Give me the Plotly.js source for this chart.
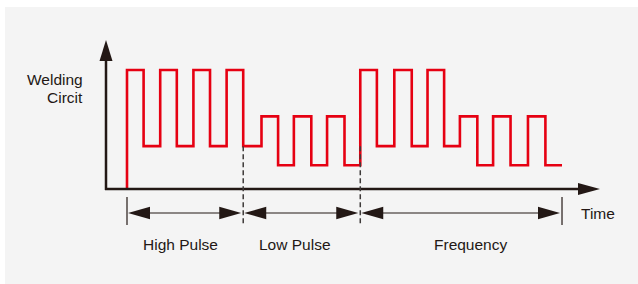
<!DOCTYPE html>
<html>
<head>
<meta charset="utf-8">
<script src="https://cdn.plot.ly/plotly-3.0.1.min.js"></script>
<style>html,body{margin:0;padding:0;background:#fff;}#chart{width:638px;height:284px;}</style>
</head>
<body>
<div id="chart"></div>
<script>
// ---- data (time units, current level units) ----
const edgeTimes = [0, 0, 1, 2, 3, 4, 5, 6, 7, 8.1, 9.1, 10.05, 11.1, 12.05, 13.1, 14.05, 15.05, 16.1, 17.15, 18.1, 19.1, 20.05, 21.1, 22.05, 23.1, 24.15, 25.2, 26.2];
const levels    = [0, 10, 3.6, 10, 3.6, 10, 3.6, 10, 3.6, 6.1, 2.0, 6.1, 2.0, 6.1, 2.0, 10, 3.6, 10, 3.6, 10, 3.6, 6.1, 2.0, 6.1, 2.0, 6.1, 2.0, 2.0];
const segmentBounds = [0, 7, 14.05, 26.2];
const segmentLabels = ["High Pulse", "Low Pulse", "Frequency"];
const labelTimes = [3.22, 10.09, 20.69];
const dashedFrom = 3.6;
const yAxisLabel = ["Welding", "Circit"];
const xAxisLabel = "Time";

// ---- scales ----
const xRange = [-7.649, 30.777];
const yRange = [-7.983, 15.882];
const W = 638, H = 284;
const pxX = W / (xRange[1] - xRange[0]);   // px per time unit
const pxY = H / (yRange[1] - yRange[0]);   // px per level unit
const dx = p => p / pxX, dy = p => p / pxY;

const ink = '#231815';
const red = '#e60012';

const axisT = -dx(21);        // y axis location
const xTip = 26.2 + dx(38);   // x arrow tip
const yTip = 10 + dy(30);     // y arrow tip
const dimY = -dy(24);         // dimension line
const tickTop = -dy(8), tickBot = -dy(36);

const shapes = [];
shapes.push({type:'rect', xref:'paper', yref:'paper', x0:5/W, x1:1, y0:0, y1:1-7/H, fillcolor:'#f4f4f4', line:{width:0}, layer:'below'});
// axes
shapes.push({type:'line', x0:axisT, x1:axisT, y0:-dy(1), y1:yTip-dy(20), line:{color:ink, width:2.5}});
shapes.push({type:'line', x0:axisT-dx(1), x1:xTip-dx(20), y0:0, y1:0, line:{color:ink, width:2.5}});
function tri(tipX, tipY, baseX1, baseY1, baseX2, baseY2){
  return {type:'path', path:`M ${tipX} ${tipY} L ${baseX1} ${baseY1} L ${baseX2} ${baseY2} Z`, fillcolor:ink, line:{width:0}};
}
shapes.push(tri(axisT, yTip, axisT-dx(6.5), yTip-dy(21), axisT+dx(6.5), yTip-dy(21)));
shapes.push(tri(xTip, 0, xTip-dx(22), dy(6), xTip-dx(22), -dy(6)));
// dimension ticks
[segmentBounds[0], segmentBounds[3]].forEach(t => {
  shapes.push({type:'line', x0:t, x1:t, y0:tickTop, y1:tickBot, line:{color:ink, width:1.2}});
});
[segmentBounds[1], segmentBounds[2]].forEach(t => {
  shapes.push({type:'line', x0:t, x1:t, y0:dashedFrom, y1:tickBot, line:{color:'#3e3a39', width:1.5, dash:'5px,3px'}});
});
// double arrows
for (let i = 0; i < 3; i++) {
  const a = segmentBounds[i] + dx(1), b = segmentBounds[i+1] - dx(2);
  shapes.push({type:'line', x0:a+dx(20), x1:b-dx(20), y0:dimY, y1:dimY, line:{color:ink, width:1.2}});
  shapes.push(tri(a, dimY, a+dx(22), dimY+dy(6.3), a+dx(22), dimY-dy(6.3)));
  shapes.push(tri(b, dimY, b-dx(22), dimY+dy(6.3), b-dx(22), dimY-dy(6.3)));
}

const font = {family:'"Liberation Sans", Arial, sans-serif', size:15.5, color:ink};
const annotations = [];
segmentLabels.forEach((s, i) => annotations.push({x:labelTimes[i], y:-dy(55), text:s, showarrow:false, xanchor:'center', yanchor:'middle', font}));
annotations.push({x:26.2+dx(17), y:-dy(24.5), text:xAxisLabel, showarrow:false, xanchor:'left', yanchor:'middle', font});
annotations.push({x:axisT-dx(21.5), y:10-dy(9), text:yAxisLabel[0], showarrow:false, xanchor:'right', yanchor:'middle', font});
annotations.push({x:axisT-dx(21.5), y:10-dy(27), text:yAxisLabel[1], showarrow:false, xanchor:'right', yanchor:'middle', font});

const trace = {x:edgeTimes, y:levels, type:'scatter', mode:'lines', line:{shape:'hv', color:red, width:2.6}, hoverinfo:'skip'};

const ax = {range:null, showgrid:false, zeroline:false, showticklabels:false, showline:false, ticks:'', fixedrange:true};
const layout = {
  width:W, height:H, margin:{l:0, r:0, t:0, b:0},
  paper_bgcolor:'#ffffff', plot_bgcolor:'rgba(0,0,0,0)',
  xaxis:Object.assign({}, ax, {range:xRange}),
  yaxis:Object.assign({}, ax, {range:yRange}),
  shapes, annotations, showlegend:false
};
Plotly.newPlot('chart', [trace], layout, {staticPlot:true, displayModeBar:false});
</script>
</body>
</html>
